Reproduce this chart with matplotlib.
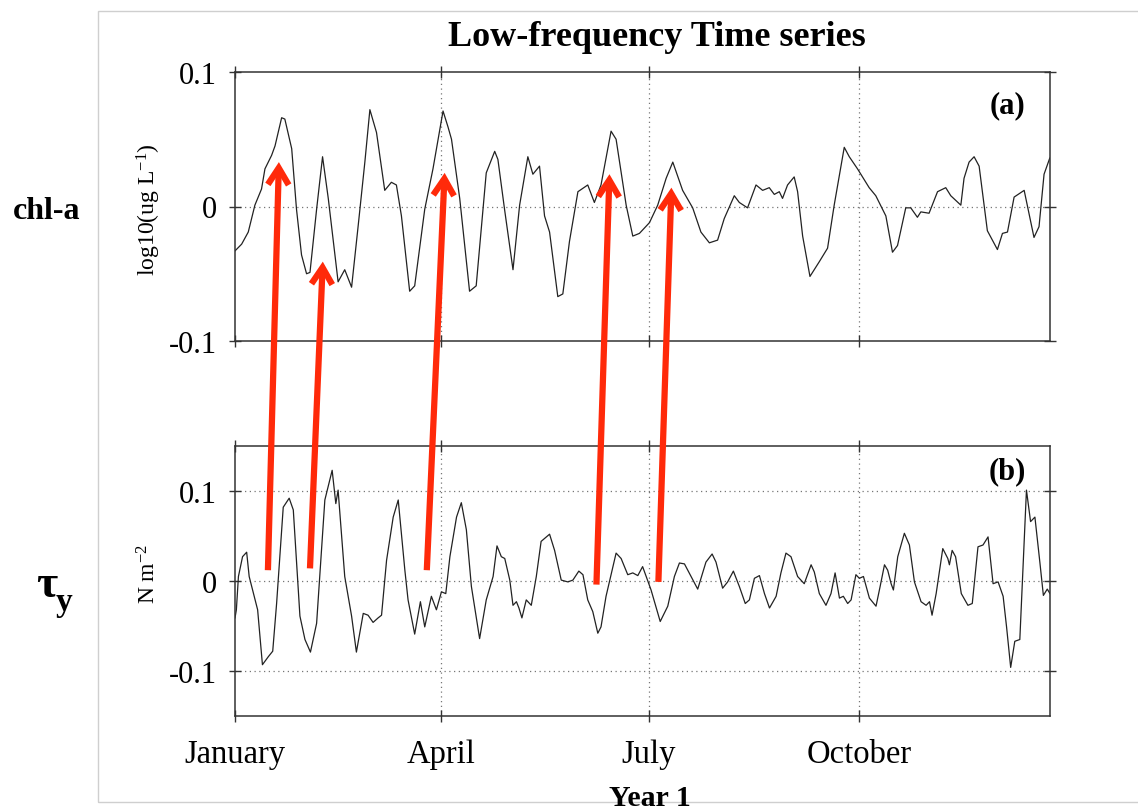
import matplotlib
matplotlib.use("Agg")
import matplotlib.pyplot as plt
from matplotlib.patches import ConnectionPatch, Rectangle

plt.rcParams['font.family'] = ['Liberation Serif', 'DejaVu Serif']
plt.rcParams['mathtext.fontset'] = 'custom'
plt.rcParams['mathtext.rm'] = 'Liberation Serif'
plt.rcParams['mathtext.it'] = 'Liberation Serif:italic'
plt.rcParams['mathtext.bf'] = 'Liberation Serif:bold'

# ---------------- data ----------------
month_days = [0, 90, 181, 273]
month_labels = ['January', 'April', 'July', 'October']

days_a = [0, 2.9, 5.8, 8.7, 11.6, 13.1, 16.0, 17.5, 20.4, 21.8, 24.8, 26.9, 29.1, 31.3, 32.8,
          35.7, 38.3, 40.8, 45.1, 48.0, 51.0, 53.9, 56.8, 59.0, 61.9, 65.5, 68.4, 70.6, 72.8,
          76.4, 78.6, 83.0, 86.6, 91.0, 93.2, 94.7, 98.3, 102.6, 105.5, 109.9, 113.6, 115.0,
          117.9, 121.6, 124.5, 128.1, 130.3, 133.2, 135.4, 137.6, 141.2, 143.4, 146.3, 150.0,
          154.3, 157.2, 160.1, 164.5, 166.7, 171.1, 174.0, 176.9, 181.3, 184.9, 188.6, 191.5,
          195.8, 200.2, 203.8, 207.5, 211.1, 214.0, 218.4, 220.6, 224.2, 227.9, 230.8, 233.7,
          235.9, 238.1, 239.5, 241.7, 244.6, 246.1, 248.3, 251.5, 255.6, 259.2, 262.1, 266.5,
          268.7, 272.3, 277.4, 280.3, 284.7, 287.6, 289.8, 293.4, 295.6, 298.5, 300.0, 303.6,
          307.3, 310.9, 313.1, 317.5, 318.9, 321.1, 323.3, 325.5, 329.1, 333.5, 335.7, 337.9,
          340.8, 345.2, 349.5, 351.7, 353.9, 356.4]
chl_a = [-0.033, -0.028, -0.019, 0.001, 0.013, 0.028, 0.038, 0.045, 0.066, 0.065, 0.043, -0.002,
         -0.036, -0.050, -0.049, -0.002, 0.037, 0.006, -0.056, -0.047, -0.060, -0.014, 0.033,
         0.072, 0.055, 0.012, 0.018, 0.016, -0.007, -0.063, -0.059, -0.002, 0.028, 0.071, 0.059,
         0.050, 0.006, -0.063, -0.059, 0.025, 0.041, 0.035, -0.002, -0.047, 0.001, 0.037, 0.024,
         0.030, -0.007, -0.019, -0.067, -0.065, -0.026, 0.011, 0.016, 0.003, 0.016, 0.056, 0.050,
         0.001, -0.022, -0.020, -0.012, 0.001, 0.021, 0.033, 0.012, -0.001, -0.019, -0.027,
         -0.025, -0.009, 0.008, 0.003, -0.001, 0.016, 0.012, 0.014, 0.009, 0.011, 0.006, 0.016,
         0.022, 0.011, -0.022, -0.052, -0.041, -0.031, 0.001, 0.044, 0.037, 0.028, 0.014, 0.008,
         -0.007, -0.034, -0.029, -0.001, -0.001, -0.008, -0.004, -0.005, 0.011, 0.014, 0.008,
         0.001, 0.021, 0.033, 0.037, 0.030, -0.018, -0.032, -0.020, -0.019, 0.007, 0.012, -0.023,
         -0.015, 0.024, 0.036]

days_b = [0, 0.6, 1.5, 3.3, 5.1, 6.2, 8.4, 9.9, 12.0, 14.6, 16.5, 18.2, 21.1, 23.7, 25.5, 28.4,
          30.6, 33.0, 35.7, 39.3, 42.5, 44.1, 45.1, 48.0, 51.0, 53.1, 56.1, 58.2, 60.4, 62.6,
          64.1, 66.3, 69.2, 71.4, 74.3, 75.7, 78.6, 81.1, 83.0, 85.9, 88.1, 90.3, 92.2, 94.0,
          96.9, 99.0, 101.2, 103.4, 107.0, 109.9, 112.9, 114.6, 116.5, 118.0, 120.2, 121.6,
          123.1, 124.2, 125.5, 127.4, 129.6, 131.8, 133.9, 137.6, 139.8, 142.7, 145.6, 147.8,
          150.4, 152.2, 154.3, 156.5, 158.7, 160.1, 162.3, 166.7, 168.9, 171.8, 174.0, 176.2,
          178.3, 182.0, 186.0, 189.3, 192.2, 194.4, 196.6, 199.5, 202.4, 206.0, 208.7, 210.4,
          213.3, 215.5, 218.0, 220.6, 223.2, 225.0, 227.2, 229.4, 231.6, 233.8, 236.7, 238.8,
          241.0, 243.2, 246.1, 249.0, 252.0, 253.4, 255.6, 258.5, 260.7, 262.5, 264.4, 266.1,
          268.0, 269.5, 271.6, 273.1, 274.9, 277.5, 280.4, 282.2, 284.1, 285.5, 287.0, 288.0,
          289.9, 292.8, 295.0, 297.2, 300.1, 302.3, 303.8, 304.9, 306.7, 309.6, 311.8, 312.5,
          313.7, 315.2, 317.7, 320.6, 322.5, 325.0, 327.2, 329.4, 331.6, 333.8, 336.0, 337.5,
          339.3, 341.1, 343.3, 346.2, 348.0, 349.9, 352.1, 353.6, 355.3, 356.5]
tau_y = [-0.041, -0.032, 0.005, 0.027, 0.032, 0.005, -0.017, -0.032, -0.093, -0.084, -0.078,
         -0.025, 0.082, 0.092, 0.079, -0.039, -0.065, -0.079, -0.047, 0.090, 0.123, 0.086, 0.101,
         0.005, -0.039, -0.079, -0.036, -0.038, -0.046, -0.041, -0.038, 0.023, 0.071, 0.090,
         0.012, -0.021, -0.059, -0.023, -0.051, -0.017, -0.032, -0.012, -0.014, 0.027, 0.071,
         0.087, 0.057, -0.006, -0.064, -0.021, 0.005, 0.039, 0.027, 0.025, 0.001, -0.027, -0.023,
         -0.030, -0.041, -0.021, -0.027, 0.005, 0.044, 0.052, 0.034, 0.001, -0.001, 0.001, 0.011,
         0.007, -0.021, -0.034, -0.058, -0.051, -0.017, 0.031, 0.025, 0.007, 0.009, 0.006, 0.016,
         -0.010, -0.045, -0.028, 0.005, 0.020, 0.019, 0.005, -0.009, 0.021, 0.030, 0.021, -0.008,
         -0.001, 0.011, -0.006, -0.025, -0.021, 0.003, 0.006, -0.014, -0.030, -0.017, 0.009,
         0.031, 0.027, 0.005, -0.003, 0.018, 0.010, -0.014, -0.027, -0.014, 0.009, -0.019, -0.017,
         -0.025, -0.021, 0.007, 0.003, 0.005, -0.019, -0.028, -0.006, 0.018, 0.012, -0.003,
         -0.010, 0.027, 0.053, 0.040, -0.001, -0.023, -0.027, -0.023, -0.038, -0.014, 0.036,
         0.025, 0.018, 0.034, 0.027, -0.014, -0.027, -0.025, 0.038, 0.040, 0.049, -0.003, -0.001,
         -0.017, -0.051, -0.096, -0.067, -0.065, 0.101, 0.066, 0.071, 0.020, -0.016, -0.009,
         -0.014]

# arrows: base in tau_y panel -> tip in chl-a panel
arrow_base_day = [14.4, 32.8, 83.9, 158.1, 185.2]
arrow_base_tau = [0.012, 0.014, 0.012, -0.004, -0.001]
arrow_tip_day = [19.2, 38.4, 91.7, 163.8, 190.9]
arrow_tip_chl = [0.033, -0.041, 0.025, 0.024, 0.014]

# ---------------- figure ----------------
W, H = 1138, 812
fig = plt.figure(figsize=(W / 100, H / 100), dpi=100)

def fx(px):
    return px / W

def fy(py):
    return 1 - py / H

ax_a = fig.add_axes([fx(235), fy(342), fx(1050) - fx(235), fy(73) - fy(342)])
ax_b = fig.add_axes([fx(235), fy(717), fx(1050) - fx(235), fy(447) - fy(717)])

# light figure frame
fig.add_artist(Rectangle((fx(98), fy(803)), 1.2, fy(12) - fy(803), transform=fig.transFigure,
                         fill=False, edgecolor='#cfcfcf', lw=1.0))

line_col = '#222222'
spine_col = '#333333'
grid_kw = dict(color='#777777', lw=0.9, linestyle=(0, (1, 2.8)))

ax_a.plot(days_a, chl_a, color=line_col, lw=0.9)
ax_b.plot(days_b, tau_y, color=line_col, lw=0.9)

ax_a.set_ylim(-0.1, 0.1)
ax_b.set_ylim(-0.15, 0.15)
for ax in (ax_a, ax_b):
    ax.set_xlim(0, 356.5)
    ax.set_xticks(month_days)
    for d in month_days[1:]:
        ax.axvline(d, **grid_kw, zorder=0)
    for s in ax.spines.values():
        s.set_color(spine_col)
        s.set_linewidth(1.1)
    ax.tick_params(direction='inout', length=9, width=1.0, color=spine_col,
                   top=True, right=True, labelsize=22, pad=8.5)
    ax.set_yticks([-0.1, 0, 0.1])
    ax.set_yticklabels(['-0.1', '0', '0.1'])

ax_a.axhline(0, **grid_kw, zorder=0)
for v in (-0.1, 0, 0.1):
    ax_b.axhline(v, **grid_kw, zorder=0)

ax_a.tick_params(axis='x', labelbottom=False)
ax_b.set_xticklabels(month_labels)
ax_b.tick_params(axis='x', labelsize=23.5, pad=12)

ax_a.text(0.948, 0.877, '(a)', transform=ax_a.transAxes, ha='center', va='center',
          fontsize=22, fontweight='bold')
ax_b.text(0.948, 0.907, '(b)', transform=ax_b.transAxes, ha='center', va='center',
          fontsize=22, fontweight='bold')

# titles / labels
fig.text(fx(657), fy(46), 'Low-frequency Time series', ha='center', va='baseline',
         fontsize=26, fontweight='bold')
fig.text(fx(650), fy(806), 'Year 1', ha='center', va='baseline', fontsize=21.5,
         fontweight='bold')
fig.text(fx(149), fy(210), r'log10(ug L$^{-1}$)', rotation=90, ha='center', va='center',
         fontsize=17)
fig.text(fx(149), fy(574), r'N m$^{-2}$', rotation=90, ha='center', va='center', fontsize=17)
fig.text(fx(47), fy(219), 'chl-a', ha='center', va='baseline', fontsize=23, fontweight='bold')
fig.text(fx(47), fy(597), 'τ', ha='center', va='baseline', fontsize=33, fontweight='bold')
fig.text(fx(56), fy(611), 'y', ha='left', va='baseline', fontsize=24, fontweight='bold')

# red arrows
for bd, bv, td, tv in zip(arrow_base_day, arrow_base_tau, arrow_tip_day, arrow_tip_chl):
    con = ConnectionPatch(xyA=(bd, bv), coordsA=ax_b.transData,
                          xyB=(td, tv), coordsB=ax_a.transData,
                          arrowstyle='->,head_length=12,head_width=7.5', mutation_scale=1,
                          color='#ff2a0a', lw=4.5, capstyle='butt', joinstyle='miter',
                          zorder=10)
    fig.add_artist(con)

fig.savefig('out.png', dpi=100)
